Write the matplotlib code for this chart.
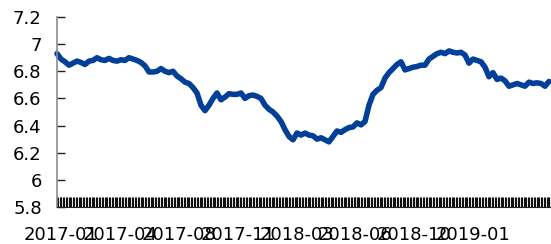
import matplotlib
matplotlib.use("Agg")
import matplotlib.pyplot as plt
import numpy as np
from matplotlib.ticker import MultipleLocator, FixedLocator

# weekly USD/CNY readings
values = [
    6.93, 6.89, 6.87, 6.845, 6.86, 6.875, 6.865, 6.85, 6.875, 6.88,
    6.90, 6.885, 6.88, 6.895, 6.88, 6.875, 6.885, 6.88, 6.90, 6.89,
    6.88, 6.865, 6.84, 6.795, 6.795, 6.80, 6.82, 6.80, 6.79, 6.80,
    6.765, 6.745, 6.72, 6.71, 6.68, 6.64, 6.55, 6.51, 6.55, 6.60,
    6.64, 6.59, 6.61, 6.635, 6.63, 6.63, 6.64, 6.60, 6.62, 6.625,
    6.615, 6.60, 6.55, 6.52, 6.50, 6.47, 6.43, 6.37, 6.32, 6.295,
    6.345, 6.33, 6.345, 6.33, 6.325, 6.30, 6.31, 6.295, 6.28, 6.32,
    6.36, 6.35, 6.37, 6.385, 6.39, 6.42, 6.405, 6.43, 6.55, 6.63,
    6.66, 6.68, 6.75, 6.79, 6.82, 6.85, 6.87, 6.81, 6.82, 6.83,
    6.835, 6.845, 6.845, 6.89, 6.91, 6.93, 6.94, 6.93, 6.95, 6.94,
    6.935, 6.94, 6.92, 6.86, 6.89, 6.88, 6.87, 6.83, 6.76, 6.79,
    6.74, 6.75, 6.73, 6.69, 6.70, 6.71, 6.70, 6.69, 6.72, 6.71,
    6.715, 6.71, 6.69, 6.725,
]
tick_labels = ["2017-01", "2017-04", "2017-08", "2017-11",
               "2018-03", "2018-06", "2018-10", "2019-01"]
y_ticks = [5.8, 6.0, 6.2, 6.4, 6.6, 6.8, 7.0, 7.2]

fig = plt.figure(figsize=(5.51, 2.44), dpi=100)
ax = fig.add_axes([57/551, 37/244, 494/551, 190/244])

x = np.arange(len(values))
ax.plot(x, values, color="#023f98", lw=4.0, solid_joinstyle="round",
        solid_capstyle="round", clip_on=False)

ax.set_xlim(0, len(values) - 0.5)
ax.set_ylim(5.8, 7.2)
ax.set_yticks(y_ticks)
ax.set_yticklabels([f"{v:g}" for v in y_ticks])

label_pos = 1 + 14.72 * np.arange(len(tick_labels))
ax.xaxis.set_major_locator(FixedLocator(label_pos))
ax.set_xticklabels(tick_labels)
ax.xaxis.set_minor_locator(MultipleLocator(0.36))

for s in ["top", "right"]:
    ax.spines[s].set_visible(False)
ax.spines["left"].set_color("#8c8c8c")
ax.spines["left"].set_linewidth(1.2)
ax.spines["bottom"].set_color("#222222")

ax.tick_params(axis="y", direction="in", length=6, width=1, color="#222222",
               labelsize=13, pad=11)
ax.tick_params(axis="x", which="both", direction="in", length=7, width=0.8,
               color="#111111", labelsize=13, pad=14)

fig.savefig("out.png", dpi=100)
